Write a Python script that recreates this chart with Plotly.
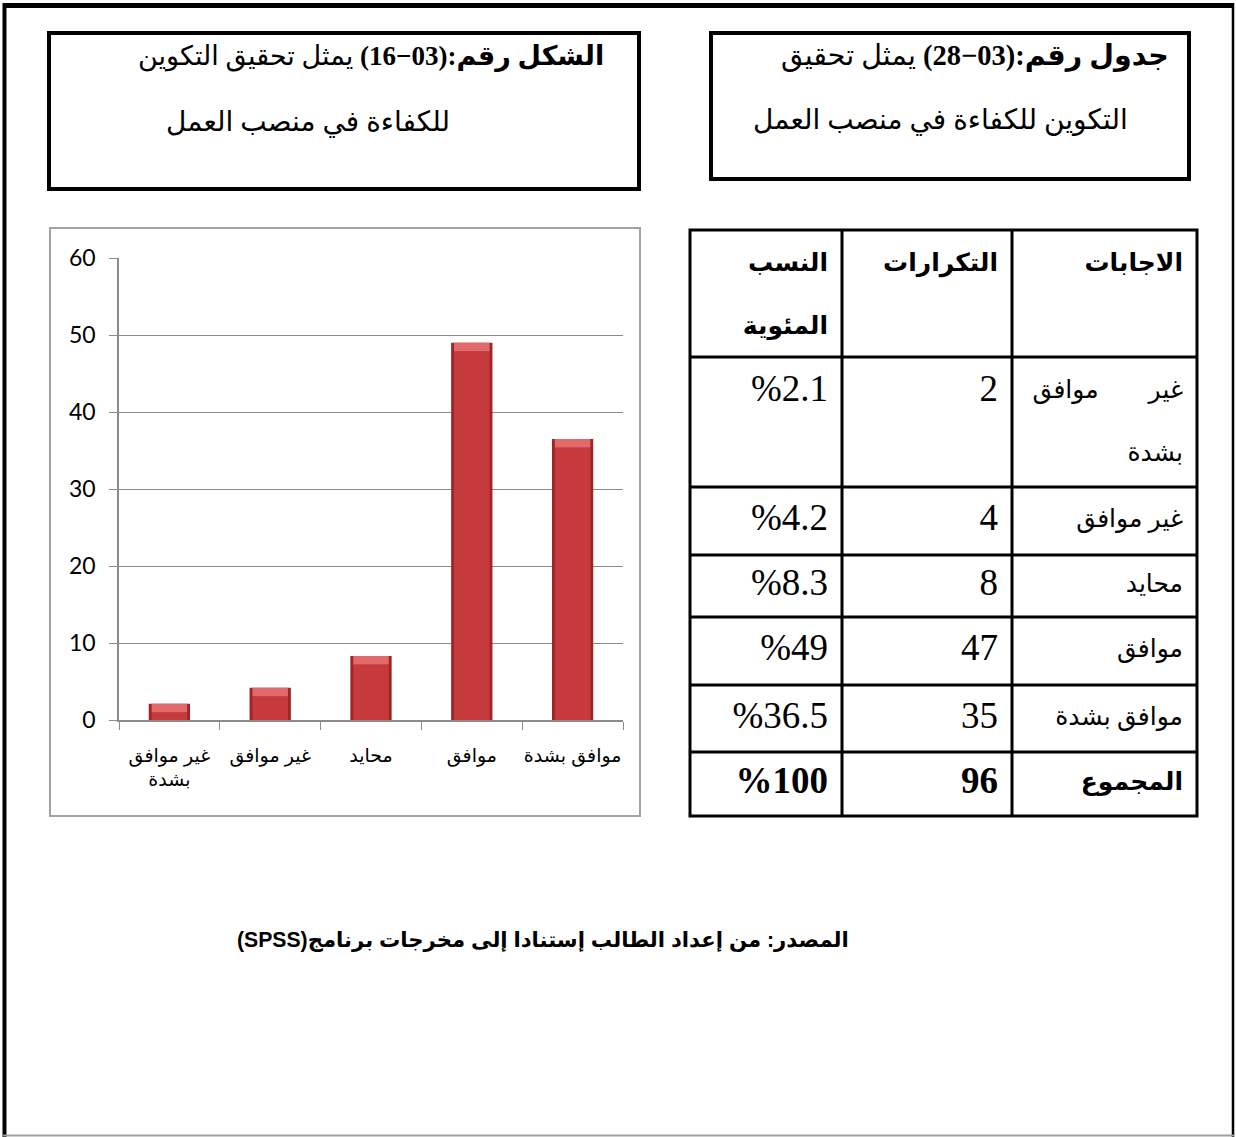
import plotly.graph_objects as go

W, H = 1236, 1137

# Survey responses, in chart order (left to right)
answers = ["غير موافق بشدة", "غير موافق", "محايد", "موافق", "موافق بشدة"]
axis_labels = ["غير موافق<br>بشدة", "غير موافق", "محايد", "موافق", "موافق بشدة"]
counts = [2, 4, 8, 47, 35]
percents = [2.1, 4.2, 8.3, 49, 36.5]
total_count = 96
total_percent = 100
y_ticks = [0, 10, 20, 30, 40, 50, 60]

table_headers = ["النسب المئوية", "التكرارات", "الاجابات"]
total_label = "المجموع"

figure_title = ["الشكل رقم:(03−16)", "يمثل تحقيق التكوين", "للكفاءة في منصب العمل"]
table_title = ["جدول رقم:(03−28)", "يمثل تحقيق", "التكوين للكفاءة في منصب العمل"]
source_note = "المصدر: من إعداد الطالب إستنادا إلى مخرجات برنامج(SPSS)"

RLE, PDF = "\u202b", "\u202c"
NB = "\u00a0"
SERIF = "Liberation Serif, DejaVu Sans, serif"
SANS = "Liberation Sans, DejaVu Sans, sans-serif"


def px(x):
    return x / W


def py(y):
    return 1 - y / H


fig = go.Figure()

# ---- bar chart: bevelled red columns ----
BAR_W = 0.41
BEVEL = 1.1
body_top = [max(v - BEVEL, 0) for v in percents]
bevel_h = [v - b for v, b in zip(percents, body_top)]

fig.add_trace(go.Bar(x=answers, y=percents, width=BAR_W,
                     marker=dict(color="#9E2528", line=dict(width=0)),
                     hoverinfo="skip", showlegend=False))
fig.add_trace(go.Bar(x=answers, y=body_top, width=BAR_W * 0.86,
                     marker=dict(color="#C63A3C", line=dict(width=0)),
                     hoverinfo="skip", showlegend=False))
fig.add_trace(go.Bar(x=answers, y=bevel_h, base=body_top, width=BAR_W * 0.86,
                     marker=dict(color="#E26A6A", line=dict(width=0)),
                     hoverinfo="skip", showlegend=False))

grid_col = "#8c8c8c"

# ---- frequency table, laid out on a hidden pixel-unit axis pair ----
col_w = [152, 170, 185]                      # percent, count, answer columns
row_h = [127, 130, 68, 62, 68, 67, 64]       # header, five answers, total
TBL_W, TBL_H = sum(col_w), sum(row_h)
PAD_R = 14
LINE_PITCH = 63

col_edges = [0]
for w in col_w:
    col_edges.append(col_edges[-1] + w)
row_edges = [0]
for h in row_h:
    row_edges.append(row_edges[-1] + h)


def wrap_answer(a):
    w = a.split(" ")
    if len(w) == 3:
        return [w[0] + NB * 8 + w[1], w[2]]
    return [a]


pct_cells = [[f"%{p:g}"] for p in percents] + [[f"<b>%{total_percent}</b>"]]
cnt_cells = [[str(c)] for c in counts] + [[f"<b>{total_count}</b>"]]
ans_cells = [wrap_answer(a) for a in answers] + [[f"<b>{total_label}</b>"]]
head_cells = [table_headers[0].split(" "), [table_headers[1]], [table_headers[2]]]


def cell_points(col, row, lines):
    xs, ys = [], []
    top, h = row_edges[row], row_h[row]
    for i, _ in enumerate(lines):
        xs.append(col_edges[col + 1] - PAD_R)
        ys.append(top + 35 + i * LINE_PITCH if h > 100 else top + h / 2)
    return xs, ys, list(lines)


def text_trace(cells_by_col, first_row, size, bold=False):
    X, Y, T = [], [], []
    for col, cells in cells_by_col:
        for r, lines in enumerate(cells):
            xs, ys, ts = cell_points(col, first_row + r, lines)
            X += xs
            Y += ys
            T += [f"<b>{t}</b>" if bold else t for t in ts]
    return go.Scatter(x=X, y=Y, text=T, mode="text", textposition="middle left",
                      textfont=dict(family=SERIF, size=size, color="black"),
                      xaxis="x2", yaxis="y2", hoverinfo="skip", showlegend=False,
                      cliponaxis=False)


fig.add_trace(text_trace([(c, [head_cells[c]]) for c in range(3)], 0, 25, bold=True))
fig.add_trace(text_trace([(0, pct_cells), (1, cnt_cells)], 1, 37))
fig.add_trace(text_trace([(2, ans_cells)], 1, 25))

tbl_line = dict(color="black", width=3)
table_shapes = [dict(type="rect", xref="x2", yref="y2", x0=0, x1=TBL_W, y0=0, y1=TBL_H,
                     line=tbl_line)]
for xe in col_edges[1:-1]:
    table_shapes.append(dict(type="line", xref="x2", yref="y2", x0=xe, x1=xe,
                             y0=0, y1=TBL_H, line=tbl_line))
for ye in row_edges[1:-1]:
    table_shapes.append(dict(type="line", xref="x2", yref="y2", x0=0, x1=TBL_W,
                             y0=ye, y1=ye, line=tbl_line))

TX0, TY0, M = 690, 230, 4
fig.update_layout(
    barmode="overlay",
    xaxis=dict(domain=[px(119), px(623)], type="category",
               tickmode="array", tickvals=answers, ticktext=axis_labels,
               tickson="boundaries", ticks="outside", ticklen=8, tickangle=0,
               tickcolor=grid_col, showline=True, linecolor=grid_col,
               linewidth=1.5, showgrid=False, ticklabelstandoff=17,
               tickfont=dict(family=SANS, size=19, color="black"),
               automargin=False, fixedrange=True),
    yaxis=dict(domain=[py(720), py(258)], range=[0, 60],
               tickmode="array", tickvals=y_ticks,
               ticks="outside", ticklen=8, tickcolor=grid_col,
               showline=True, linecolor=grid_col, linewidth=1.5,
               showgrid=True, gridcolor=grid_col, gridwidth=1.3,
               zeroline=False, ticklabelstandoff=9,
               tickfont=dict(family="Lato, Open Sans, sans-serif", size=23, color="black"),
               automargin=False, fixedrange=True),
    xaxis2=dict(domain=[px(TX0 - M), px(TX0 + TBL_W + M)], range=[-M, TBL_W + M],
                anchor="y2", visible=False, automargin=False, fixedrange=True),
    yaxis2=dict(domain=[py(TY0 + TBL_H + M), py(TY0 - M)], range=[TBL_H + M, -M],
                anchor="x2", visible=False, automargin=False, fixedrange=True),
)

# ---- page decoration: frames and boxes ----
P = dict(xref="paper", yref="paper")
shapes = [
    # outer page frame
    dict(type="line", x0=px(4.5), x1=px(4.5), y0=py(3), y1=py(1137), line=dict(color="black", width=4), **P),
    dict(type="line", x0=px(3), x1=px(1234), y0=py(5.5), y1=py(5.5), line=dict(color="black", width=5), **P),
    dict(type="line", x0=px(1233), x1=px(1233), y0=py(3), y1=py(1137), line=dict(color="black", width=2.5), **P),
    dict(type="line", x0=px(3), x1=px(1234), y0=py(1135.5), y1=py(1135.5), line=dict(color="#a0a0a0", width=2), **P),
    # caption boxes
    dict(type="rect", x0=px(49), x1=px(639), y0=py(33), y1=py(189), line=dict(color="black", width=4), **P),
    dict(type="rect", x0=px(711), x1=px(1189), y0=py(33), y1=py(179), line=dict(color="black", width=4), **P),
    # chart area border
    dict(type="rect", x0=px(50), x1=px(640), y0=py(228), y1=py(816), line=dict(color="#a3a3a3", width=2), **P),
] + table_shapes

annotations = [
    dict(x=px(606), y=py(56), text=RLE + f"<b>{figure_title[0]}</b> {figure_title[1]}" + PDF,
         xanchor="right", yanchor="middle", font=dict(family=SERIF, size=27, color="black")),
    dict(x=px(452), y=py(122), text=figure_title[2],
         xanchor="right", yanchor="middle", font=dict(family=SERIF, size=28, color="black")),
    dict(x=px(1171), y=py(56), text=RLE + f"<b>{table_title[0]}</b> {table_title[1]}" + PDF,
         xanchor="right", yanchor="middle", font=dict(family=SERIF, size=28.5, color="black")),
    dict(x=px(1130), y=py(120), text=table_title[2],
         xanchor="right", yanchor="middle", font=dict(family=SERIF, size=28, color="black")),
    dict(x=px(543), y=py(940), text=RLE + f"<b>{source_note}</b>" + PDF,
         xanchor="center", yanchor="middle", font=dict(family=SANS, size=21.2, color="black")),
]
for a in annotations:
    a.update(xref="paper", yref="paper", showarrow=False)

fig.update_layout(
    width=W, height=H, autosize=False,
    margin=dict(l=0, r=0, t=0, b=0, pad=0, autoexpand=False),
    paper_bgcolor="white", plot_bgcolor="white",
    shapes=shapes, annotations=annotations,
    showlegend=False,
)

# pin the figure to the top-left corner of a page exactly the figure's size
page_css = "margin:0;padding:0;overflow:hidden;width:1236px;height:1137px;"
fig.write_html(
    "out.html",
    config=dict(displayModeBar=False),
    post_script=(
        "var gd = document.getElementById('{plot_id}');"
        f"document.documentElement.style.cssText = '{page_css}';"
        f"document.body.style.cssText = '{page_css}';"
        "gd.style.position = 'absolute'; gd.style.left = '0px'; gd.style.top = '0px';"
    ),
)
